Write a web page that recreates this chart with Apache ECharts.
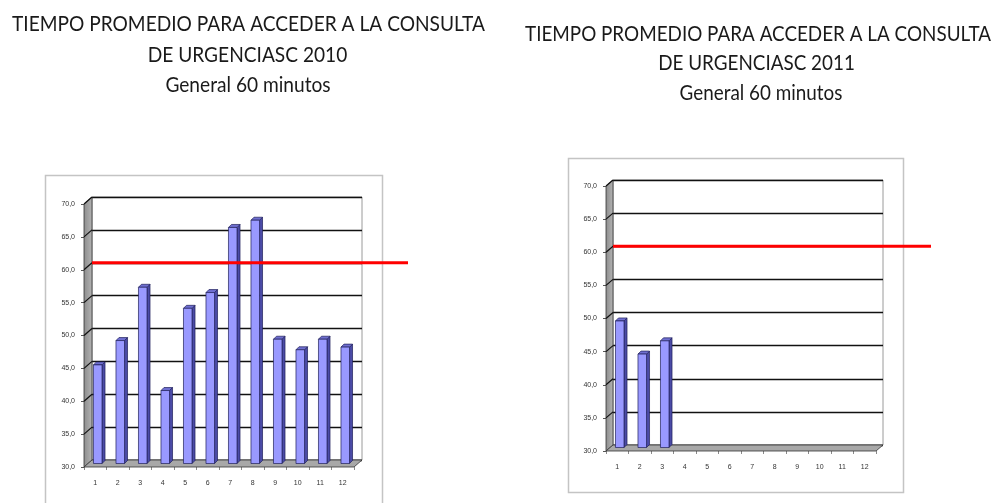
<!DOCTYPE html>
<html>
<head>
<meta charset="utf-8">
<script src="https://cdn.jsdelivr.net/npm/echarts@6/dist/echarts.min.js"></script>
<style>
  html, body { margin: 0; padding: 0; background: #ffffff; }
  #chart { width: 998px; height: 503px; }
</style>
</head>
<body>
<div id="chart"></div>
<script>
// Month numbers on the category axis
const meses = ['1', '2', '3', '4', '5', '6', '7', '8', '9', '10', '11', '12'];

// Average waiting time (minutes) per month
const tiempo2010 = [45.0, 48.7, 56.8, 41.1, 53.6, 56.0, 65.9, 67.0, 48.9, 47.3, 48.9, 47.7];
const tiempo2011 = [49.1, 44.1, 46.1];

// Target reference line
const metaMinutos = 60;

// Value axis range
const yMin = 30;
const yMax = 70;
const yStep = 5;

const titulo2010 = ['TIEMPO PROMEDIO PARA ACCEDER A LA CONSULTA', 'DE URGENCIASC 2010', 'General 60 minutos'];
const titulo2011 = ['TIEMPO PROMEDIO PARA ACCEDER A LA CONSULTA', 'DE URGENCIASC 2011', 'General 60 minutos'];

// Panel layout: front plane of the 3D box, wall depth, outer frame, heading placement
const panels = [
  {
    values: tiempo2010, titles: titulo2010,
    front: { left: 84, top: 204, width: 270, height: 263 },
    depth: [8, 7],
    frame: { x: 45.5, y: 175.5, width: 337, height: 345 },
    lineExt: 46,
    titleX: [248.5, 247.5, 248], titleY: [24, 55, 85], titleWidth: 473
  },
  {
    values: tiempo2011, titles: titulo2011,
    front: { left: 606, top: 186, width: 270, height: 265 },
    depth: [7, 6],
    frame: { x: 568.5, y: 158.5, width: 335, height: 334 },
    lineExt: 48,
    titleX: [758, 756.5, 761], titleY: [33.5, 63, 93], titleWidth: 466
  }
];

const titleFont = '22px Lato';
const fmtComa = v => v.toFixed(1).replace('.', ',');

// width of a text string in the heading font, used to condense the heading to its box
const measureCtx = document.createElement('canvas').getContext('2d');
function textWidth(t) {
  measureCtx.font = titleFont;
  return measureCtx.measureText(t).width;
}

const grid = [], xAxis = [], yAxis = [], series = [], graphic = [];

panels.forEach((p, k) => {
  const [dx, dy] = p.depth;
  const gFront = 2 * k, gBack = 2 * k + 1;

  grid.push({ left: p.front.left, top: p.front.top, width: p.front.width, height: p.front.height });
  grid.push({
    left: p.front.left + dx, top: p.front.top - dy, width: p.front.width, height: p.front.height,
    show: true, borderColor: '#9a9a9a', borderWidth: 1, backgroundColor: '#ffffff'
  });

  // front axes: labels and ticks
  xAxis.push({
    type: 'category', gridIndex: gFront, data: meses, boundaryGap: true,
    axisLine: { show: false },
    axisTick: { show: true, length: 3, lineStyle: { color: '#8a8a8a', width: 1 } },
    axisLabel: { fontFamily: 'Liberation Sans', fontSize: 7, color: '#333', margin: 13 }
  });
  yAxis.push({
    type: 'value', gridIndex: gFront, min: yMin, max: yMax, interval: yStep,
    axisLine: { show: false },
    axisTick: { show: true, length: 3, lineStyle: { color: '#555', width: 1 } },
    axisLabel: { fontFamily: 'Liberation Sans', fontSize: 7, color: '#333', margin: 9, formatter: fmtComa },
    splitLine: { show: false }
  });

  // back wall axes: gridlines only
  xAxis.push({
    type: 'category', gridIndex: gBack, data: meses, boundaryGap: true,
    axisLine: { show: false }, axisTick: { show: false }, axisLabel: { show: false }
  });
  yAxis.push({
    type: 'value', gridIndex: gBack, min: yMin, max: yMax, interval: yStep,
    axisLine: { show: false }, axisTick: { show: false }, axisLabel: { show: false },
    splitLine: { show: true, lineStyle: { color: '#111', width: 1.4 } }
  });

  // side wall, floor and the gridline returns on the side wall
  series.push({
    type: 'custom', xAxisIndex: gFront, yAxisIndex: gFront, z: 3, clip: false,
    data: [[0, yMin]],
    renderItem(params, api) {
      const cs = params.coordSys;
      const x0 = cs.x, y0 = cs.y, x1 = cs.x + cs.width, y1 = cs.y + cs.height;
      const children = [];
      children.push({
        type: 'polygon',
        shape: { points: [[x0, y1], [x0, y0], [x0 + dx, y0 - dy], [x0 + dx, y1 - dy]] },
        style: {
          fill: new echarts.graphic.LinearGradient(0, 0, 1, 0, [
            { offset: 0, color: '#8c8c8c' }, { offset: 1, color: '#b4b4b4' }
          ]),
          stroke: '#333', lineWidth: 0.8
        }
      });
      for (let v = yMin + yStep; v <= yMax; v += yStep) {
        const y = api.coord([0, v])[1];
        children.push({
          type: 'line', shape: { x1: x0, y1: y, x2: x0 + dx, y2: y - dy },
          style: { stroke: '#111', lineWidth: 1.2 }
        });
      }
      children.push({
        type: 'polygon',
        shape: { points: [[x0, y1], [x1, y1], [x1 + dx, y1 - dy], [x0 + dx, y1 - dy]] },
        style: { fill: '#a8a8a8', stroke: '#333', lineWidth: 0.8 }
      });
      return { type: 'group', children };
    }
  });

  // 3D columns
  series.push({
    type: 'custom', xAxisIndex: gFront, yAxisIndex: gFront, z: 4, clip: false,
    data: p.values.map((v, i) => [i, v]),
    encode: { x: 0, y: 1 },
    renderItem(params, api) {
      const i = api.value(0), v = api.value(1);
      const top = api.coord([i, v]);
      const base = api.coord([i, yMin]);
      const bw = api.size([1, 0])[0] * 0.38;
      const ox = 2.5, oy = -3.5;
      const bdx = 3, bdy = 3;
      const xl = top[0] - bw / 2 + ox, xr = xl + bw;
      const yt = top[1] + oy, yb = base[1] + oy;
      const edge = { stroke: '#20205a', lineWidth: 0.7 };
      return {
        type: 'group',
        children: [
          { type: 'polygon', shape: { points: [[xr, yt], [xr + bdx, yt - bdy], [xr + bdx, yb - bdy], [xr, yb]] },
            style: Object.assign({ fill: '#4b4ba6' }, edge) },
          { type: 'polygon', shape: { points: [[xl, yt], [xl + bdx, yt - bdy], [xr + bdx, yt - bdy], [xr, yt]] },
            style: Object.assign({ fill: '#6f6fd0' }, edge) },
          { type: 'rect', shape: { x: xl, y: yt, width: bw, height: yb - yt },
            style: Object.assign({ fill: '#9999ff' }, edge) }
        ]
      };
    }
  });

  // 60-minute target line on the back wall, running past the plot
  series.push({
    type: 'custom', xAxisIndex: gBack, yAxisIndex: gBack, z: 6, clip: false,
    data: [[0, metaMinutos]],
    renderItem(params, api) {
      const cs = params.coordSys;
      const y = api.coord([0, api.value(1)])[1];
      return {
        type: 'line',
        shape: { x1: cs.x, y1: y, x2: cs.x + cs.width + p.lineExt, y2: y },
        style: { stroke: '#ff0000', lineWidth: 3 }
      };
    }
  });

  // chart frame
  graphic.push({
    type: 'rect', z: -1, silent: true,
    shape: { x: p.frame.x, y: p.frame.y, width: p.frame.width, height: p.frame.height },
    style: { fill: 'none', stroke: '#c4c4c4', lineWidth: 1.5 }
  });

  // three-line heading, condensed so the first line fills its width
  const squeeze = p.titleWidth / textWidth(p.titles[0]);
  p.titles.forEach((t, j) => {
    graphic.push({
      type: 'text', z: 10, silent: true,
      x: p.titleX[j], y: p.titleY[j], scaleX: squeeze,
      style: {
        text: t, x: 0, y: 0,
        textAlign: 'center', textVerticalAlign: 'middle',
        font: titleFont, fill: '#1a1a1a'
      }
    });
  });
});

const chart = echarts.init(document.getElementById('chart'), null, { renderer: 'canvas' });
chart.setOption({
  backgroundColor: '#ffffff',
  animation: false,
  grid, xAxis, yAxis, series, graphic
});
</script>
</body>
</html>
